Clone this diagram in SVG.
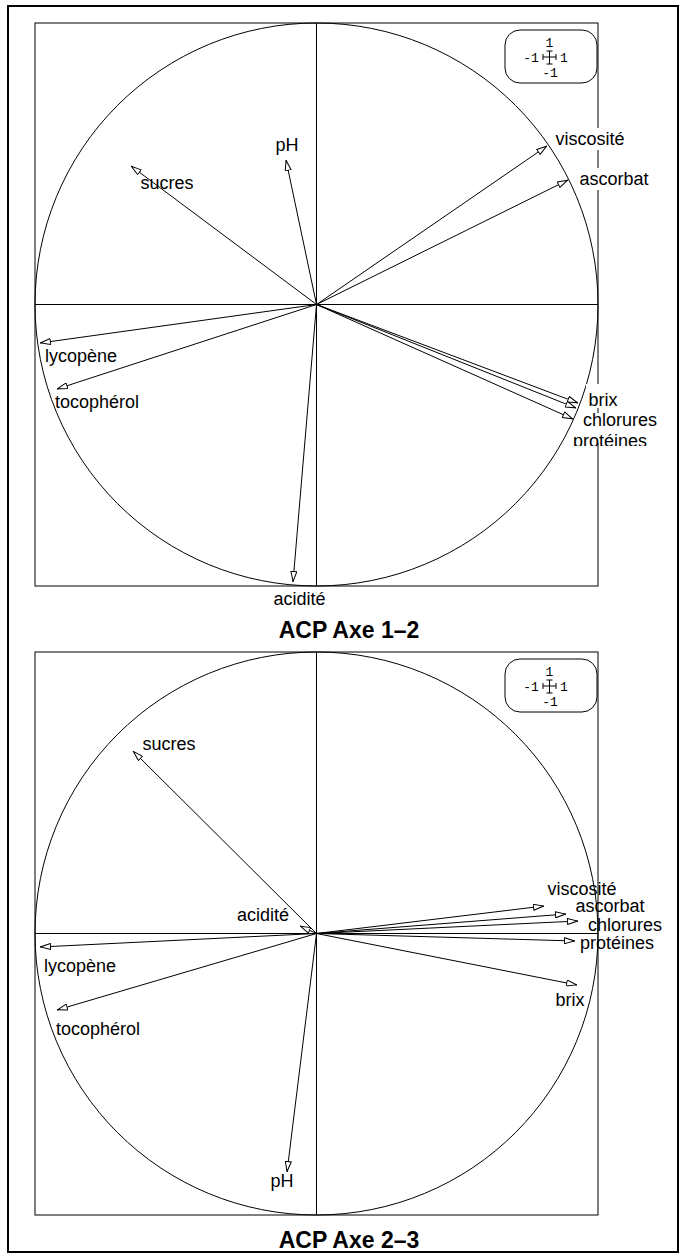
<svg xmlns="http://www.w3.org/2000/svg" width="686" height="1258" viewBox="0 0 686 1258">
<style>
.ln{stroke:#000;stroke-width:1;fill:none}
.fr{stroke:#000;stroke-width:2;fill:none}
.ar{stroke:#000;stroke-width:1;fill:none;marker-end:url(#ah)}
.lb{font-family:"Liberation Sans",Arial,sans-serif;font-size:18px;fill:#000;text-anchor:middle}
.tt{font-family:"Liberation Sans",Arial,sans-serif;font-size:23px;font-weight:bold;fill:#000;text-anchor:middle}
.mono{font-family:"Liberation Mono","DejaVu Sans Mono",monospace;font-size:13px;fill:#000;text-anchor:middle}
.bg{fill:#fff;stroke:none}
</style>
<defs>
<marker id="ah" viewBox="0 0 11 7" refX="11" refY="3.5" markerWidth="11" markerHeight="7" markerUnits="userSpaceOnUse" orient="auto">
<path d="M0.5,0.5 L10.5,3.5 L0.5,6.5 Z" fill="#fff" stroke="#000" stroke-width="1"/>
</marker>
<clipPath id="cp"><rect x="560" y="420" width="120" height="26"/></clipPath>
<g id="legend">
<rect x="505" y="30" width="92" height="53" rx="15" class="ln"/>
<text x="549.5" y="47" class="mono">1</text>
<text x="531" y="62" class="mono">-1</text>
<text x="564" y="62" class="mono">1</text>
<text x="550" y="77" class="mono">-1</text>
<path d="M543,57 H556 M543,54 V60 M556,54 V60 M549.5,51 V64 M546.5,51 H552.5 M546.5,64 H552.5" class="ln"/>
</g>
</defs>
<rect x="8" y="6" width="670" height="1246" class="fr"/>

<g id="panel1">
<rect x="35" y="23" width="563" height="563" class="ln"/>
<circle cx="316.5" cy="304.5" r="281.5" class="ln"/>
<path d="M35,304.5 H598 M316.5,23 V586" class="ln"/>
<use href="#legend"/>
<g id="p1-connectors">
<line x1="316.5" y1="304.5" x2="547" y2="146" class="ar"/>
<line x1="316.5" y1="304.5" x2="568" y2="180" class="ar"/>
<line x1="316.5" y1="304.5" x2="578" y2="403" class="ar"/>
<line x1="316.5" y1="304.5" x2="576" y2="408" class="ar"/>
<line x1="316.5" y1="304.5" x2="573" y2="419" class="ar"/>
<line x1="316.5" y1="304.5" x2="40" y2="343" class="ar"/>
<line x1="316.5" y1="304.5" x2="57" y2="389" class="ar"/>
<line x1="316.5" y1="304.5" x2="293" y2="582" class="ar"/>
<line x1="316.5" y1="304.5" x2="286" y2="160" class="ar"/>
<line x1="316.5" y1="304.5" x2="131" y2="166" class="ar"/>
</g>
<g id="p1-viscosite"><rect x="553" y="128" width="74" height="22" class="bg"/><text x="590" y="145" class="lb">viscosité</text></g>
<g id="p1-ascorbat"><rect x="577" y="168" width="75" height="22" class="bg"/><text x="614" y="185" class="lb">ascorbat</text></g>
<g id="p1-brix"><rect x="586" y="384" width="34" height="24" class="bg"/><text x="603" y="406" class="lb">brix</text></g>
<g id="p1-chlorures"><rect x="582" y="413" width="78" height="18" class="bg"/><text x="620" y="426" class="lb">chlorures</text></g>
<g id="p1-proteines"><rect x="572" y="431" width="78" height="12" class="bg"/><text x="610" y="447" class="lb" clip-path="url(#cp)">protéines</text></g>
<g id="p1-lycopene"><text x="81" y="362" class="lb">lycopène</text></g>
<g id="p1-tocopherol"><text x="97" y="408" class="lb">tocophérol</text></g>
<g id="p1-sucres"><text x="167" y="189" class="lb">sucres</text></g>
<g id="p1-pH"><text x="287" y="151" class="lb">pH</text></g>
<g id="p1-acidite"><text x="299.5" y="605" class="lb">acidité</text></g>
<text x="349" y="638" class="tt">ACP Axe 1–2</text>
</g>

<g id="panel2">
<rect x="35" y="652" width="563" height="563" class="ln"/>
<circle cx="316.5" cy="933.5" r="281.5" class="ln"/>
<path d="M35,933.5 H598 M316.5,652 V1215" class="ln"/>
<use href="#legend" y="629"/>
<g id="p2-connectors">
<line x1="316.5" y1="933.5" x2="544" y2="906" class="ar"/>
<line x1="316.5" y1="933.5" x2="566" y2="914" class="ar"/>
<line x1="316.5" y1="933.5" x2="578" y2="921" class="ar"/>
<line x1="316.5" y1="933.5" x2="575" y2="941" class="ar"/>
<line x1="316.5" y1="933.5" x2="577" y2="985" class="ar"/>
<line x1="316.5" y1="933.5" x2="40" y2="947" class="ar"/>
<line x1="316.5" y1="933.5" x2="57" y2="1010" class="ar"/>
<line x1="316.5" y1="933.5" x2="300" y2="926" class="ar"/>
<line x1="316.5" y1="933.5" x2="287" y2="1172" class="ar"/>
<line x1="316.5" y1="933.5" x2="133" y2="751" class="ar"/>
</g>
<g id="p2-viscosite"><text x="582" y="895" class="lb">viscosité</text></g>
<g id="p2-ascorbat"><text x="610" y="912" class="lb">ascorbat</text></g>
<g id="p2-chlorures"><text x="625" y="931" class="lb">chlorures</text></g>
<g id="p2-proteines"><text x="617" y="949" class="lb">protéines</text></g>
<g id="p2-brix"><text x="570" y="1006" class="lb">brix</text></g>
<g id="p2-lycopene"><text x="80" y="972" class="lb">lycopène</text></g>
<g id="p2-tocopherol"><text x="98" y="1035" class="lb">tocophérol</text></g>
<g id="p2-sucres"><text x="169" y="750" class="lb">sucres</text></g>
<g id="p2-pH"><text x="282" y="1187" class="lb">pH</text></g>
<g id="p2-acidite"><text x="263" y="921" class="lb">acidité</text></g>
<text x="349" y="1248" class="tt">ACP Axe 2–3</text>
</g>
</svg>
